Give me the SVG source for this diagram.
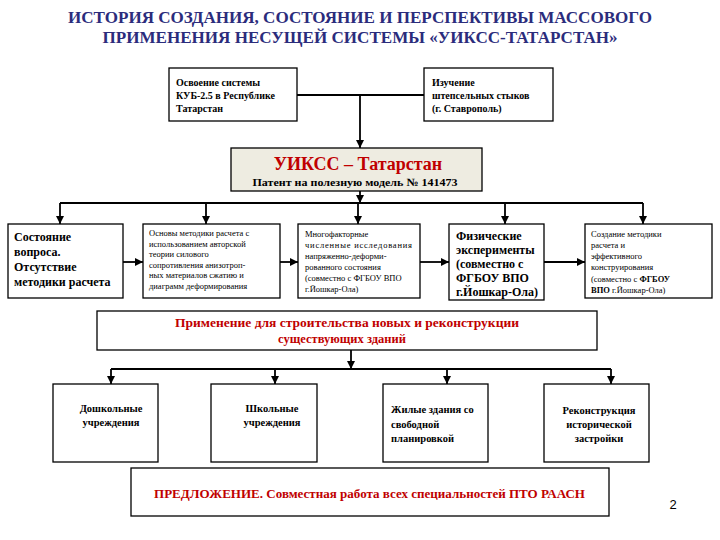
<svg xmlns="http://www.w3.org/2000/svg" width="720" height="540" viewBox="0 0 720 540">
<defs>
<marker id="arr" markerUnits="userSpaceOnUse" markerWidth="8" markerHeight="8" refX="8" refY="4" orient="auto">
<path d="M0,0 L8,4 L0,8 z" fill="#000"/>
</marker>
<style>
.box{fill:#fff;stroke:#000;stroke-width:1.3}
.t{font-family:'Liberation Serif','DejaVu Serif','Times New Roman',serif;fill:#000}
.b{font-weight:bold}
.red{fill:#c00000;font-weight:bold}
.title{font-family:'Liberation Serif','DejaVu Serif','Times New Roman',serif;font-weight:bold;font-size:16px;fill:#2b2c7c}
.c{stroke:#000;stroke-width:1.8;fill:none}
.ca{stroke:#000;stroke-width:1.8;fill:none;marker-end:url(#arr)}
</style>
</defs>
<rect width="720" height="540" fill="#fff"/>
<g id="title">
<text class="title" font-family="Liberation Serif, serif" x="360" y="23" text-anchor="middle" textLength="584" lengthAdjust="spacingAndGlyphs">ИСТОРИЯ СОЗДАНИЯ, СОСТОЯНИЕ И ПЕРСПЕКТИВЫ МАССОВОГО</text>
<text class="title" font-family="Liberation Serif, serif" x="360" y="43" text-anchor="middle" textLength="515" lengthAdjust="spacingAndGlyphs">ПРИМЕНЕНИЯ НЕСУЩЕЙ СИСТЕМЫ «УИКСС-ТАТАРСТАН»</text>
</g>
<g id="connectors">
<path class="c" d="M297,95 H424"/>
<path class="ca" d="M360,95 V148"/>
<path class="ca" d="M360,191 V203"/>
<path class="c" d="M60,203 H643"/>
<path class="ca" d="M60,203 V224"/>
<path class="ca" d="M206,203 V224"/>
<path class="ca" d="M358,203 V224"/>
<path class="ca" d="M505,203 V224"/>
<path class="ca" d="M643,203 V224"/>
<path class="ca" d="M123,262 H143"/>
<path class="ca" d="M280,262 H298"/>
<path class="ca" d="M420,262 H449"/>
<path class="ca" d="M544,262 H585"/>
<path class="ca" d="M351,350 V369"/>
<path class="c" d="M111,369 H611"/>
<path class="ca" d="M111,369 V384"/>
<path class="ca" d="M275,369 V384"/>
<path class="ca" d="M447,369 V384"/>
<path class="ca" d="M611,369 V384"/>
</g>
<g id="n-kub">
<rect class="box" x="169" y="68" width="128" height="53"/>
<text class="t b" font-size="10" x="176" y="86">Освоение системы</text>
<text class="t b" font-size="10" x="176" y="99">КУБ-2.5 в Республике</text>
<text class="t b" font-size="10" x="176" y="112">Татарстан</text>
</g>
<g id="n-stavropol">
<rect class="box" x="424" y="68" width="129" height="53"/>
<text class="t b" font-size="10" x="432" y="86">Изучение</text>
<text class="t b" font-size="10" x="432" y="99">штепсельных стыков</text>
<text class="t b" font-size="10" x="432" y="112">(г. Ставрополь)</text>
</g>
<g id="n-uikss">
<rect x="231" y="148" width="251" height="43" fill="#eeece1" stroke="#000" stroke-width="1.3"/>
<text class="t red" font-size="18" x="358" y="170" text-anchor="middle">УИКСС – Татарстан</text>
<text class="t b" font-size="11" x="355" y="186" text-anchor="middle" textLength="205" lengthAdjust="spacingAndGlyphs">Патент на полезную модель № 141473</text>
</g>
<g id="n-state">
<rect class="box" x="8" y="224" width="115" height="74"/>
<text class="t b" font-size="12" x="14" y="241">Состояние</text>
<text class="t b" font-size="12" x="14" y="256">вопроса.</text>
<text class="t b" font-size="12" x="14" y="271">Отсутствие</text>
<text class="t b" font-size="12" x="14" y="286">методики расчета</text>
</g>
<g id="n-basics">
<rect class="box" x="143" y="224" width="137" height="74"/>
<text class="t" font-size="8.5" x="149" y="236">Основы методики расчета с</text>
<text class="t" font-size="8.5" x="149" y="246.5">использованием авторской</text>
<text class="t" font-size="8.5" x="149" y="257">теории силового</text>
<text class="t" font-size="8.5" x="149" y="267.5">сопротивления анизотроп-</text>
<text class="t" font-size="8.5" x="149" y="278">ных материалов сжатию и</text>
<text class="t" font-size="8.5" x="149" y="288.5">диаграмм деформирования</text>
</g>
<g id="n-multi">
<rect class="box" x="298" y="224" width="122" height="74"/>
<text class="t" font-size="8.5" x="305" y="237">Многофакторные</text>
<text class="t" font-size="8.5" x="305" y="248" textLength="107" lengthAdjust="spacing">численные    исследования</text>
<text class="t" font-size="8.5" x="305" y="259">напряженно-деформи-</text>
<text class="t" font-size="8.5" x="305" y="270">рованного состояния</text>
<text class="t" font-size="8.5" x="305" y="281">(совместно с  ФГБОУ ВПО</text>
<text class="t" font-size="8.5" x="305" y="292">г.Йошкар-Ола)</text>
</g>
<g id="n-phys">
<rect class="box" x="449" y="224" width="95" height="76"/>
<text class="t b" font-size="12" x="456" y="240">Физические</text>
<text class="t b" font-size="12" x="456" y="254">эксперименты</text>
<text class="t b" font-size="12" x="456" y="268">(совместно с</text>
<text class="t b" font-size="12" x="456" y="282">ФГБОУ ВПО</text>
<text class="t b" font-size="12" x="456" y="296">г.Йошкар-Ола)</text>
</g>
<g id="n-method">
<rect class="box" x="585" y="224" width="127" height="74"/>
<text class="t" font-size="8.5" x="591" y="237">Создание методики</text>
<text class="t" font-size="8.5" x="591" y="248">расчета и</text>
<text class="t" font-size="8.5" x="591" y="259">эффективного</text>
<text class="t" font-size="8.5" x="591" y="270">конструирования</text>
<text class="t" font-size="8.5" x="591" y="282">(совместно с <tspan font-weight="bold">ФГБОУ</tspan></text>
<text class="t" font-size="8.5" x="591" y="293"><tspan font-weight="bold">ВПО</tspan> г.Йошкар-Ола)</text>
</g>
<g id="n-apply">
<rect class="box" x="97" y="311" width="500" height="39"/>
<text class="t red" font-size="12.5" x="347" y="327" text-anchor="middle" textLength="344" lengthAdjust="spacingAndGlyphs">Применение для строительства новых и реконструкции</text>
<text class="t red" font-size="12.5" x="342" y="343" text-anchor="middle">существующих зданий</text>
</g>
<g id="n-preschool">
<rect class="box" x="53" y="384" width="105" height="78"/>
<text class="t b" font-size="10.5" x="111" y="412" text-anchor="middle">Дошкольные</text>
<text class="t b" font-size="10.5" x="111" y="426" text-anchor="middle">учреждения</text>
</g>
<g id="n-school">
<rect class="box" x="211" y="384" width="106" height="78"/>
<text class="t b" font-size="10.5" x="272" y="412" text-anchor="middle">Школьные</text>
<text class="t b" font-size="10.5" x="272" y="426" text-anchor="middle">учреждения</text>
</g>
<g id="n-housing">
<rect class="box" x="383" y="384" width="105" height="78"/>
<text class="t b" font-size="10.5" x="391" y="413">Жилые здания со</text>
<text class="t b" font-size="10.5" x="391" y="428">свободной</text>
<text class="t b" font-size="10.5" x="391" y="442">планировкой</text>
</g>
<g id="n-recon">
<rect class="box" x="544" y="384" width="105" height="78"/>
<text class="t b" font-size="10.5" x="599" y="414" text-anchor="middle">Реконструкция</text>
<text class="t b" font-size="10.5" x="599" y="428" text-anchor="middle">исторической</text>
<text class="t b" font-size="10.5" x="599" y="442" text-anchor="middle">застройки</text>
</g>
<g id="n-proposal">
<rect class="box" x="131" y="468" width="478" height="48"/>
<text class="t red" font-size="12" x="154" y="498" textLength="431" lengthAdjust="spacingAndGlyphs">ПРЕДЛОЖЕНИЕ. Совместная работа всех специальностей ПТО РААСН</text>
</g>
<text x="673" y="509" font-family="Liberation Sans, Arial, sans-serif" font-size="13" fill="#000" text-anchor="middle">2</text>
</svg>
